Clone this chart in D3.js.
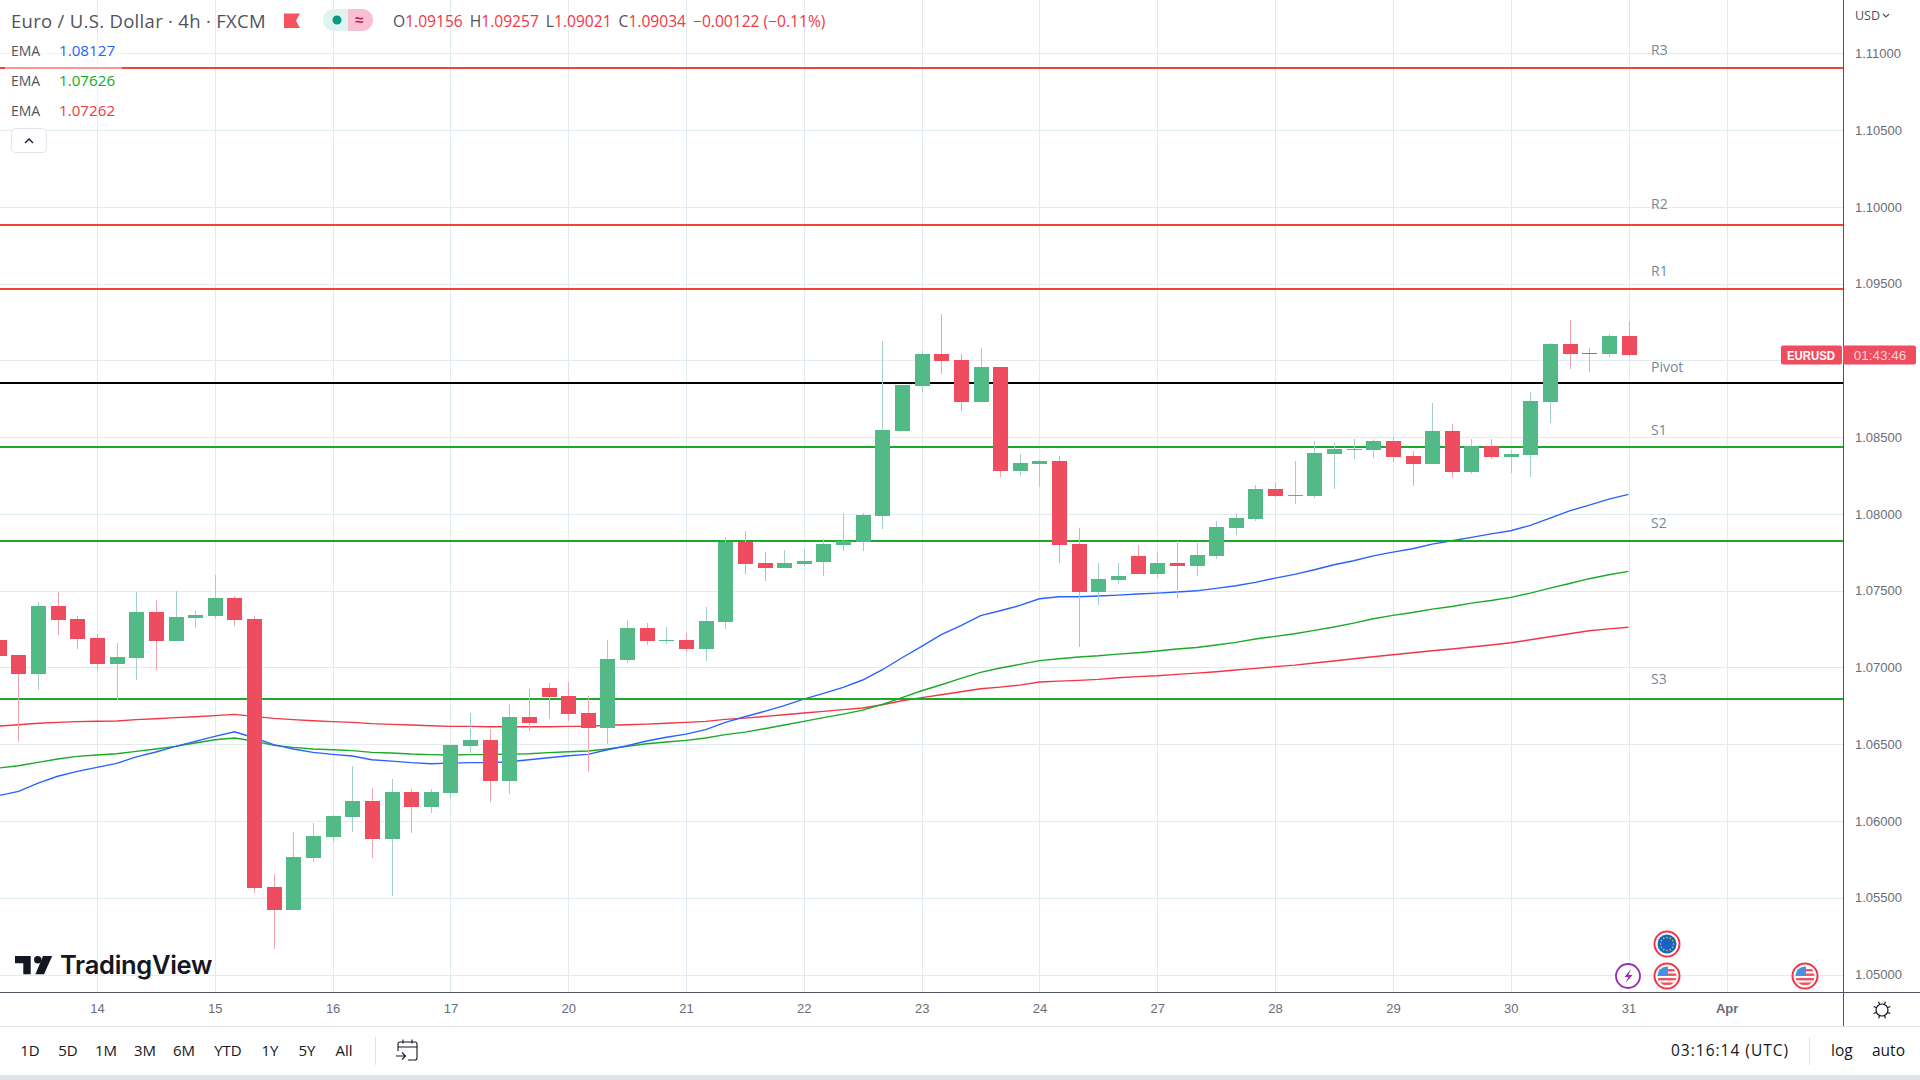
<!DOCTYPE html>
<html>
<head>
<meta charset="utf-8">
<script src="https://cdn.jsdelivr.net/npm/d3@7"></script>
<style>
html, body { margin: 0; padding: 0; background: #fff; overflow: hidden; }
svg { display: block; }
text { font-family: "Liberation Sans", sans-serif; }
.ui { font-family: "Open Sans", sans-serif; }
</style>
</head>
<body>
<div id="chart"></div>
<script>
'use strict';

// candles, 4h, the first one sits five bars left of the "14" gridline
var firstBar = -5;
var opens = [1.07180,1.07083,1.06959,1.07402,1.07317,1.07193,1.07024,1.07063,1.07363,1.07174,1.07324,1.07337,1.07454,1.07317,1.05572,1.05423,1.05761,1.05898,1.06028,1.06132,1.05885,1.06191,1.06093,1.06184,1.06490,1.06529,1.06262,1.06679,1.06868,1.06816,1.06705,1.06608,1.07050,
    1.07258,1.07174,1.07180,1.07122,1.07298,1.07818,1.07682,1.07649,1.07675,1.07688,1.07799,1.07818,1.07988,1.08541,1.08834,1.09042,1.09003,1.08730,1.08958,1.08281,1.08326,1.08346,1.07805,1.07493,1.07571,
    1.07727,1.07610,1.07682,1.07662,1.07727,1.07910,1.07968,1.08164,1.08118,1.08118,1.08391,1.08417,1.08417,1.08476,1.08378,1.08326,1.08541,1.08274,1.08443,1.08372,1.08385,1.08730,1.09107,1.09049,1.09042,1.09156];
var highs = [1.07202,1.07083,1.07428,1.07493,1.07337,1.07219,1.07161,1.07493,1.07441,1.07499,1.07369,1.07604,1.07467,1.07337,1.05657,1.05930,1.05989,1.06041,1.06360,1.06217,1.06275,1.06210,1.06210,1.06497,1.06705,1.06601,1.06764,1.06861,1.06900,1.06907,1.06816,1.07180,1.07311,
    1.07291,1.07265,1.07226,1.07395,1.07851,1.07890,1.07753,1.07766,1.07773,1.07838,1.08007,1.08007,1.09127,1.08841,1.09062,1.09303,1.09042,1.09081,1.08958,1.08391,1.08352,1.08378,1.07910,1.07682,1.07682,
    1.07799,1.07753,1.07825,1.07812,1.07955,1.08007,1.08190,1.08203,1.08346,1.08476,1.08463,1.08489,1.08482,1.08502,1.08411,1.08723,1.08587,1.08489,1.08489,1.08417,1.08795,1.09114,1.09264,1.09081,1.09173,1.09257];
var lows = [1.07061,1.06512,1.06855,1.07213,1.07122,1.06985,1.06790,1.06920,1.06985,1.07174,1.07259,1.07317,1.07272,1.05533,1.05169,1.05423,1.05735,1.05865,1.05930,1.05761,1.05514,1.05924,1.06054,1.06145,1.06445,1.06126,1.06178,1.06588,1.06666,1.06653,1.06321,1.06503,1.07031,
    1.07148,1.07154,1.07102,1.07044,1.07252,1.07610,1.07565,1.07649,1.07656,1.07597,1.07760,1.07760,1.07903,1.08541,1.08795,1.08912,1.08671,1.08730,1.08242,1.08248,1.08176,1.07682,1.07135,1.07408,1.07545,
    1.07610,1.07584,1.07454,1.07597,1.07708,1.07864,1.07955,1.08105,1.08066,1.08105,1.08164,1.08359,1.08365,1.08339,1.08183,1.08326,1.08242,1.08261,1.08359,1.08268,1.08242,1.08593,1.08945,1.08925,1.09023,1.09021];
var closes = [1.07078,1.06959,1.07402,1.07311,1.07187,1.07024,1.07070,1.07363,1.07174,1.07330,1.07343,1.07454,1.07311,1.05566,1.05423,1.05768,1.05904,1.06035,1.06132,1.05885,1.06191,1.06093,1.06191,1.06497,1.06529,1.06262,1.06679,1.06640,1.06809,1.06699,1.06608,1.07057,1.07259,
    1.07174,1.07180,1.07122,1.07304,1.07818,1.07675,1.07649,1.07682,1.07695,1.07805,1.07825,1.07994,1.08548,1.08841,1.09042,1.08997,1.08730,1.08958,1.08281,1.08333,1.08346,1.07799,1.07493,1.07578,1.07597,
    1.07610,1.07682,1.07662,1.07734,1.07916,1.07975,1.08164,1.08118,1.08125,1.08398,1.08424,1.08424,1.08476,1.08372,1.08326,1.08541,1.08274,1.08443,1.08372,1.08391,1.08736,1.09107,1.09042,1.09042,1.09160,1.09034];

var emaBlue = [1.06165,1.06193,1.06247,1.06291,1.06323,1.06349,1.06375,1.06417,1.06449,1.06486,1.06518,1.06551,1.06581,1.06542,1.06497,1.06469,1.06447,1.06434,1.06423,1.06399,1.06390,1.06380,1.06373,1.06377,1.06380,1.06380,1.06386,1.06399,1.06412,1.06425,1.06434,1.06464,1.06490,
    1.06521,1.06545,1.06566,1.06595,1.06642,1.06679,1.06714,1.06751,1.06794,1.06831,1.06870,1.06918,1.06985,1.07063,1.07137,1.07213,1.07272,1.07337,1.07369,1.07404,1.07447,1.07460,1.07460,1.07465,1.07471,
    1.07478,1.07484,1.07491,1.07499,1.07515,1.07532,1.07554,1.07582,1.07606,1.07636,1.07669,1.07695,1.07727,1.07751,1.07773,1.07803,1.07825,1.07847,1.07870,1.07890,1.07925,1.07972,1.08020,1.08057,1.08096,1.08127];
var emaGreen = [1.06345,1.06360,1.06382,1.06404,1.06421,1.06430,1.06438,1.06453,1.06469,1.06486,1.06508,1.06529,1.06540,1.06521,1.06492,1.06479,1.06469,1.06464,1.06458,1.06447,1.06443,1.06436,1.06432,1.06430,1.06432,1.06432,1.06436,1.06438,1.06445,1.06451,1.06456,1.06469,1.06486,
    1.06503,1.06514,1.06525,1.06540,1.06562,1.06579,1.06601,1.06625,1.06649,1.06673,1.06696,1.06722,1.06759,1.06803,1.06848,1.06887,1.06929,1.06968,1.06996,1.07020,1.07044,1.07057,1.07068,1.07076,1.07087,
    1.07096,1.07107,1.07120,1.07130,1.07146,1.07163,1.07185,1.07202,1.07219,1.07241,1.07263,1.07289,1.07317,1.07339,1.07358,1.07380,1.07397,1.07419,1.07436,1.07456,1.07484,1.07517,1.07547,1.07578,1.07604,1.07626];
var emaRed = [1.06618,1.06627,1.06636,1.06642,1.06647,1.06649,1.06651,1.06660,1.06666,1.06673,1.06679,1.06686,1.06694,1.06681,1.06668,1.06660,1.06653,1.06647,1.06642,1.06634,1.06629,1.06625,1.06620,1.06616,1.06616,1.06614,1.06614,1.06614,1.06614,1.06616,1.06616,1.06623,1.06627,
    1.06631,1.06636,1.06642,1.06649,1.06662,1.06670,1.06681,1.06692,1.06703,1.06714,1.06725,1.06736,1.06757,1.06783,1.06803,1.06822,1.06842,1.06861,1.06872,1.06885,1.06905,1.06911,1.06916,1.06922,1.06933,
    1.06940,1.06946,1.06955,1.06963,1.06972,1.06983,1.06994,1.07005,1.07015,1.07029,1.07042,1.07057,1.07070,1.07083,1.07096,1.07109,1.07120,1.07133,1.07146,1.07161,1.07180,1.07200,1.07219,1.07239,1.07251,1.07262];

var pivotNames = ["R3", "R2", "R1", "Pivot", "S1", "S2", "S3"];
var pivotPrices = [1.10906, 1.09882, 1.09467, 1.08854, 1.08437, 1.07825, 1.06796];
var pivotKinds = ["res", "res", "res", "pivot", "sup", "sup", "sup"];

var priceTicks = [1.05, 1.055, 1.06, 1.065, 1.07, 1.075, 1.08, 1.085, 1.09, 1.095, 1.10, 1.105, 1.11];
var dayLabels = ["14", "15", "16", "17", "20", "21", "22", "23", "24", "27", "28", "29", "30", "31", "Apr"];
var dayBars = [0, 6, 12, 18, 24, 30, 36, 42, 48, 54, 60, 66, 72, 78, 83];
var rangeButtons = ["1D", "5D", "1M", "3M", "6M", "YTD", "1Y", "5Y", "All"];
var legendValues = ["1.08127", "1.07626", "1.07262"];

var C = {
    up: "#53b987", down: "#ee4d5f", upWick: "#a3cfcf", downWick: "#f4a3ae",
    grid: "#e0ebf2", axis: "#50535e", sep: "#e0e3eb", label: "#6a6d78",
    blue: "#2962ff", green: "#19ab27", red: "#f23645", pivotRed: "#f44336", pivotGreen: "#1aa928"
};
var W = 1920, H = 1080, paneR = 1843, paneB = 992;

var svg = d3.select("#chart").append("svg").attr("width", W).attr("height", H);
svg.append("rect").attr("width", W).attr("height", H).attr("fill", "#fff");

var x = d3.scaleLinear().domain([0, 78]).range([97, 1628.5]);
var y = d3.scaleLinear().domain([1.05, 1.11]).range([974.5, 53.3]);

var bars = d3.range(opens.length).map(function(k) {
    return { i: firstBar + k, o: opens[k], h: highs[k], l: lows[k], c: closes[k] };
});

svg.append("clipPath").attr("id", "pane").append("rect")
    .attr("width", paneR).attr("height", paneB);
var pane = svg.append("g").attr("clip-path", "url(#pane)");

// GRID
pane.append("g").selectAll("line").data(priceTicks).enter().append("line")
    .attr("x1", 0).attr("x2", paneR)
    .attr("y1", function(d) { return Math.round(y(d)) + 0.5; })
    .attr("y2", function(d) { return Math.round(y(d)) + 0.5; })
    .attr("stroke", C.grid);
pane.append("g").selectAll("line").data(dayBars).enter().append("line")
    .attr("y1", 0).attr("y2", paneB)
    .attr("x1", function(d) { return Math.round(x(d)) + 0.5; })
    .attr("x2", function(d) { return Math.round(x(d)) + 0.5; })
    .attr("stroke", C.grid);

// EMA
var emaLine = d3.line()
    .x(function(d, k) { return x(firstBar + k); })
    .y(function(d) { return y(d); });
[[emaRed, C.red], [emaGreen, C.green], [emaBlue, C.blue]].forEach(function(e) {
    pane.append("path").attr("d", emaLine(e[0]))
        .attr("fill", "none").attr("stroke", e[1]).attr("stroke-width", 1.4);
});

// PIVOT LINES
var pivotColor = { res: C.pivotRed, pivot: "#000", sup: C.pivotGreen };
pane.append("g").selectAll("line").data(pivotPrices).enter().append("line")
    .attr("x1", 0).attr("x2", paneR)
    .attr("y1", function(d) { return Math.round(y(d)) ; })
    .attr("y2", function(d) { return Math.round(y(d)) ; })
    .attr("stroke", function(d, i) { return pivotColor[pivotKinds[i]]; })
    .attr("stroke-width", 2);

var labelDy = [-18, -21, -18, -16, -17, -18, -20];
pane.append("g").selectAll("text").data(pivotNames).enter().append("text")
    .attr("x", 1651)
    .attr("y", function(d, i) { return y(pivotPrices[i]) + labelDy[i]; })
    .attr("dy", "0.35em")
    .attr("class", "ui")
    .attr("font-size", 14)
    .attr("fill", "#76889a")
    .text(function(d) { return d; });

// CANDLES
var candle = pane.append("g").selectAll("g").data(bars).enter().append("g")
    .attr("shape-rendering", "crispEdges");
candle.append("line")
    .attr("x1", function(d) { return Math.round(x(d.i)) + 0.5; })
    .attr("x2", function(d) { return Math.round(x(d.i)) + 0.5; })
    .attr("y1", function(d) { return y(d.h); })
    .attr("y2", function(d) { return y(d.l); })
    .attr("stroke", function(d) { return d.c >= d.o ? C.upWick : C.downWick; });
candle.append("rect")
    .attr("x", function(d) { return Math.round(x(d.i)) - 7; })
    .attr("width", 15)
    .attr("y", function(d) { return Math.round(y(Math.max(d.o, d.c))); })
    .attr("height", function(d) { return Math.max(1, Math.round(Math.abs(y(d.o) - y(d.c)))); })
    .attr("fill", function(d) { return d.c >= d.o ? C.up : C.down; });

// AXES, the 1.09000 label sits under the price tag so it is left out
var priceAxis = d3.axisRight(y).tickValues(priceTicks.filter(function(d) { return d !== 1.09; }))
    .tickFormat(d3.format(".5f")).tickSize(0).tickPadding(12);
var gp = svg.append("g").attr("transform", "translate(" + paneR + ",0)").call(priceAxis);
gp.select(".domain").remove();
gp.selectAll("text").attr("font-family", "Liberation Sans").attr("font-size", 13).attr("fill", C.label);

var timeAxis = d3.axisBottom(x).tickValues(dayBars)
    .tickFormat(function(d, i) { return dayLabels[i]; }).tickSize(0).tickPadding(12);
var gt = svg.append("g").attr("transform", "translate(0," + paneB + ")").call(timeAxis);
gt.select(".domain").remove();
gt.selectAll("text").attr("font-family", "Liberation Sans").attr("font-size", 13).attr("fill", C.label)
    .attr("font-weight", function(d) { return d === 83 ? "bold" : null; });

svg.append("line").attr("x1", paneR + 0.5).attr("x2", paneR + 0.5).attr("y1", 0).attr("y2", 1026).attr("stroke", C.axis);
svg.append("line").attr("x1", 0).attr("x2", W).attr("y1", paneB + 0.5).attr("y2", paneB + 0.5).attr("stroke", C.axis);
svg.append("line").attr("x1", 0).attr("x2", W).attr("y1", 1026.5).attr("y2", 1026.5).attr("stroke", C.sep);
svg.append("rect").attr("y", 1075).attr("width", W).attr("height", 5).attr("fill", C.sep);

svg.append("text").attr("x", 1855).attr("y", 20).attr("class", "ui").attr("font-size", 12.5).attr("fill", "#50535e").text("USD");
svg.append("path").attr("d", "M1883 14l3 3 3-3").attr("fill", "none").attr("stroke", "#50535e").attr("stroke-width", 1.2);

// LEGEND
svg.append("rect").attr("x", 5).attr("y", 38).attr("width", 117).attr("height", 86).attr("fill", "#fff").attr("opacity", 0.45);
svg.append("text").attr("x", 11).attr("y", 28).attr("class", "ui").attr("font-size", 18.5).attr("letter-spacing", 0.3).attr("fill", "#50535e")
    .text("Euro / U.S. Dollar \u00b7 4h \u00b7 FXCM");
svg.append("path").attr("d", "M284 13.5h16l-4 7.2 4 7.3h-16z").attr("fill", "#f7525f");

svg.append("path").attr("d", "M348 9h-14a11 11 0 0 0 0 22h14z").attr("fill", "#dff3ef");
svg.append("path").attr("d", "M348 9h14a11 11 0 0 1 0 22h-14z").attr("fill", "#f9bfd3");
svg.append("circle").attr("cx", 337).attr("cy", 20).attr("r", 4.5).attr("fill", "#089981");
svg.append("text").attr("x", 359).attr("y", 25).attr("text-anchor", "middle").attr("font-size", 15).attr("font-weight", "bold").attr("fill", "#c2185b").text("\u2248");

var ohlc = svg.append("text").attr("x", 393).attr("y", 27).attr("class", "ui").attr("font-size", 15.6);
[["O", "1.09156"], ["H", "1.09257"], ["L", "1.09021"], ["C", "1.09034"]].forEach(function(p, i) {
    ohlc.append("tspan").attr("fill", "#50535e").attr("dx", i ? 7 : 0).text(p[0]);
    ohlc.append("tspan").attr("fill", C.red).text(p[1]);
});
ohlc.append("tspan").attr("fill", C.red).attr("dx", 7).text("\u22120.00122 (\u22120.11%)");

var legendColors = [C.blue, "#13ab1b", C.red];
legendValues.forEach(function(v, i) {
    var ly = 56 + i * 30;
    svg.append("text").attr("x", 11).attr("y", ly).attr("class", "ui").attr("font-size", 14).attr("fill", "#50535e").text("EMA");
    svg.append("text").attr("x", 59).attr("y", ly).attr("class", "ui").attr("font-size", 15.2).attr("fill", legendColors[i]).text(v);
});
svg.append("rect").attr("x", 11.5).attr("y", 128.5).attr("width", 35).attr("height", 24).attr("rx", 4)
    .attr("fill", "#fff").attr("stroke", C.sep);
svg.append("path").attr("d", "M25 143l4-4 4 4").attr("fill", "none").attr("stroke", "#131722").attr("stroke-width", 1.3);

// PRICE TAG
var tagY = Math.round(y(closes[closes.length - 1]));
svg.append("rect").attr("x", 1781).attr("y", tagY - 9.5).attr("width", 61).attr("height", 19).attr("rx", 2).attr("fill", C.down);
svg.append("rect").attr("x", 1843).attr("y", tagY - 9.5).attr("width", 73).attr("height", 19).attr("rx", 2).attr("fill", C.down);
svg.append("text").attr("x", 1787).attr("y", tagY + 5).attr("font-size", 13).attr("font-weight", "bold")
    .attr("textLength", 48).attr("lengthAdjust", "spacingAndGlyphs").attr("fill", "#fff").text("EURUSD");
svg.append("text").attr("x", 1880).attr("y", tagY + 5).attr("text-anchor", "middle").attr("font-size", 13.5).attr("fill", "#fbd3d8").text("01:43:46");

// LOGO
var logo = svg.append("g").attr("fill", "#131722");
logo.append("path").attr("d", "M15 956h15.7v18.3h-7.4v-11h-8.3z");
logo.append("circle").attr("cx", 37.7).attr("cy", 959.7).attr("r", 3.7);
logo.append("path").attr("d", "M43 956h9.2l-8.2 18.3h-8.6z");
logo.append("text").attr("x", 60).attr("y", 974).attr("font-size", 25.5).attr("font-weight", 600)
    .style("font-family", "Inter").attr("letter-spacing", -0.3).attr("fill", "#131722").text("TradingView");

// EVENT ICONS
function flagRing(cx, cy) {
    svg.append("circle").attr("cx", cx).attr("cy", cy).attr("r", 12.5).attr("fill", "#fff").attr("stroke", "#f23645").attr("stroke-width", 2);
}
flagRing(1667, 944);
svg.append("circle").attr("cx", 1667).attr("cy", 944).attr("r", 9.5).attr("fill", "#1565c0");
d3.range(12).forEach(function(k) {
    var a = k * Math.PI / 6;
    svg.append("circle").attr("cx", 1667 + 6.5 * Math.cos(a)).attr("cy", 944 + 6.5 * Math.sin(a)).attr("r", 0.8).attr("fill", "#e5c94a");
});
[[1667, 976], [1805, 976]].forEach(function(p, n) {
    flagRing(p[0], p[1]);
    var id = "us" + n;
    svg.append("clipPath").attr("id", id).append("circle").attr("cx", p[0]).attr("cy", p[1]).attr("r", 9.5);
    var f = svg.append("g").attr("clip-path", "url(#" + id + ")");
    f.append("rect").attr("x", p[0] - 10).attr("y", p[1] - 10).attr("width", 20).attr("height", 20).attr("fill", "#fff");
    [-7, -2.5, 2, 6.5].forEach(function(dy) {
        f.append("rect").attr("x", p[0] - 10).attr("y", p[1] + dy).attr("width", 20).attr("height", 2.4).attr("fill", "#f0525f");
    });
    f.append("rect").attr("x", p[0] - 10).attr("y", p[1] - 10).attr("width", 11).attr("height", 10).attr("fill", "#4a90e2");
});
svg.append("circle").attr("cx", 1628).attr("cy", 976).attr("r", 12).attr("fill", "#fff").attr("stroke", "#9c27b0").attr("stroke-width", 1.8);
svg.append("path").attr("d", "M1631 969l-6.5 8h4l-3 6 7-8h-4z").attr("fill", "#9c27b0");

// SUN ICON
svg.append("circle").attr("cx", 1882).attr("cy", 1010).attr("r", 6).attr("fill", "none").attr("stroke", "#131722").attr("stroke-width", 1.2);
d3.range(8).forEach(function(k) {
    var a = k * Math.PI / 4 + Math.PI / 8;
    svg.append("line")
        .attr("x1", 1882 + 6.5 * Math.cos(a)).attr("y1", 1010 + 6.5 * Math.sin(a))
        .attr("x2", 1882 + 9 * Math.cos(a)).attr("y2", 1010 + 9 * Math.sin(a))
        .attr("stroke", "#131722").attr("stroke-width", 1.2);
});

// BOTTOM BAR
var btnCenters = [30, 68, 106, 145, 184, 228, 270, 307, 344];
svg.append("g").selectAll("text").data(rangeButtons).enter().append("text")
    .attr("x", function(d, i) { return btnCenters[i]; })
    .attr("y", 1056)
    .attr("text-anchor", "middle").attr("class", "ui").attr("font-size", 15).attr("fill", "#131722")
    .text(function(d) { return d; });
svg.append("line").attr("x1", 375.5).attr("x2", 375.5).attr("y1", 1037).attr("y2", 1065).attr("stroke", C.sep);
svg.append("path").attr("d", "M398 1051v-7a2 2 0 0 1 2-2h15a2 2 0 0 1 2 2v14a2 2 0 0 1-2 2h-7M398 1047h19M403 1039.5v4M412 1039.5v4M396 1056h9M402 1052.5l3.5 3.5-3.5 3.5")
    .attr("fill", "none").attr("stroke", "#131722").attr("stroke-width", 1.1);
svg.append("text").attr("x", 1671).attr("y", 1056).attr("class", "ui").attr("font-size", 15.5).attr("letter-spacing", 1).attr("fill", "#131722").text("03:16:14 (UTC)");
svg.append("line").attr("x1", 1809.5).attr("x2", 1809.5).attr("y1", 1037).attr("y2", 1065).attr("stroke", C.sep);
svg.append("text").attr("x", 1831).attr("y", 1056).attr("class", "ui").attr("font-size", 15.5).attr("fill", "#131722").text("log");
svg.append("text").attr("x", 1872).attr("y", 1056).attr("class", "ui").attr("font-size", 15.5).attr("fill", "#131722").text("auto");
</script>
</body>
</html>
